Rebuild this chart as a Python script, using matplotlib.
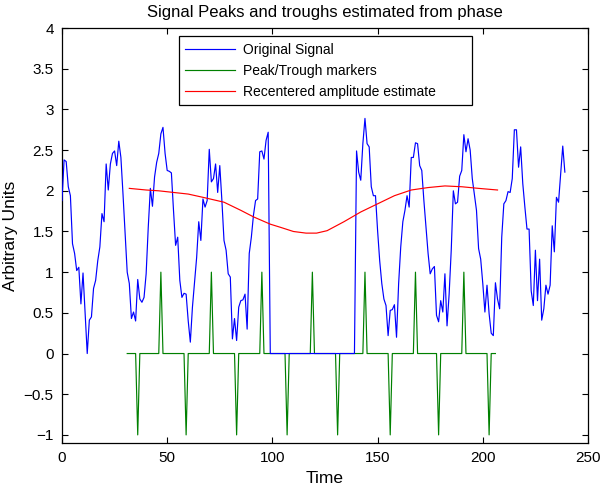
import numpy as np
import matplotlib
matplotlib.use('Agg')
import matplotlib.pyplot as plt

plt.rcParams['font.family'] = ['Liberation Sans', 'DejaVu Sans']

# Originalsignal, ett sample per tidssteg fra t=0
signal = [
    1.88, 2.38, 2.36, 2.05, 1.94, 1.35, 1.23, 1.02, 1.06, 0.61,
    0.99, 0.49, 0.00, 0.41, 0.45, 0.80, 0.90, 1.14, 1.31, 1.72,
    1.62, 2.33, 2.01, 2.33, 2.46, 2.49, 2.31, 2.61, 2.41, 1.96,
    1.47, 1.00, 0.86, 0.43, 0.51, 0.40, 0.91, 0.67, 0.63, 0.69,
    0.98, 1.55, 2.03, 1.81, 2.17, 2.35, 2.46, 2.70, 2.78, 2.46,
    2.25, 2.24, 2.22, 1.76, 1.33, 1.43, 0.90, 0.69, 0.74, 0.73,
    0.40, 0.14, 0.57, 0.88, 1.18, 1.62, 1.39, 1.90, 1.80, 1.88,
    2.51, 2.11, 2.15, 2.33, 1.98, 2.31, 1.88, 1.39, 1.27, 0.98,
    0.94, 0.18, 0.43, 0.16, 0.57, 0.65, 0.66, 0.73, 0.30, 1.23,
    1.43, 1.70, 1.88, 1.90, 2.48, 2.49, 2.39, 2.62, 2.72, 0.00,
    0.00, 0.00, 0.00, 0.00, 0.00, 0.00, 0.00, 0.00, 0.00, 0.00,
    0.00, 0.00, 0.00, 0.00, 0.00, 0.00, 0.00, 0.00, 0.00, 0.00,
    0.00, 0.00, 0.00, 0.00, 0.00, 0.00, 0.00, 0.00, 0.00, 0.00,
    0.00, 0.00, 0.00, 0.00, 0.00, 0.00, 0.00, 0.00, 0.00, 0.00,
    2.49, 2.23, 2.13, 2.58, 2.89, 2.58, 2.54, 2.05, 1.94, 1.94,
    1.51, 1.14, 0.86, 0.67, 0.59, 0.22, 0.53, 0.54, 0.60, 0.20,
    0.86, 1.31, 1.62, 1.76, 1.94, 1.80, 2.41, 2.41, 2.59, 2.58,
    2.31, 2.25, 1.88, 1.55, 1.23, 0.98, 1.04, 1.07, 0.47, 0.39,
    0.65, 0.51, 0.98, 0.34, 0.73, 1.27, 2.00, 1.84, 1.86, 2.18,
    2.25, 2.69, 2.48, 2.64, 2.50, 2.15, 1.96, 1.76, 1.29, 1.16,
    0.86, 0.51, 0.84, 0.49, 0.25, 0.22, 0.87, 0.67, 0.55, 1.43,
    1.84, 1.88, 1.99, 1.98, 2.15, 2.75, 2.75, 2.29, 2.54, 2.09,
    1.80, 1.53, 1.53, 0.77, 0.59, 1.27, 0.65, 1.16, 0.41, 0.55,
    0.84, 0.73, 0.84, 1.57, 1.25, 1.92, 1.86, 2.21, 2.55, 2.23,
]

# Topp/bunn-markører
marker_start = 31
marker_end = 206
peak_times = [47, 71, 95, 119, 144, 168, 191]
trough_times = [36, 59, 83, 107, 131, 156, 179, 203]

# Rekentrert amplitudeestimat
amp_t = [32, 40, 46, 53, 60, 67, 77, 85, 91, 99, 104, 110, 116, 121,
         126, 134, 142, 150, 158, 166, 174, 182, 190, 198, 207]
amp_v = [2.03, 2.01, 2.00, 1.98, 1.96, 1.92, 1.86, 1.76, 1.68, 1.59, 1.55,
         1.50, 1.48, 1.48, 1.51, 1.62, 1.74, 1.84, 1.94, 2.01, 2.04, 2.06,
         2.05, 2.03, 2.01]

t = np.arange(len(signal))
marker_t = np.arange(marker_start, marker_end + 1)
markers = np.zeros(len(marker_t))
for p in peak_times:
    markers[p - marker_start] = 1
for tr in trough_times:
    markers[tr - marker_start] = -1

fig = plt.figure(figsize=(6, 4.87), dpi=100)
ax = fig.add_axes([0.1033, 0.0903, 0.8767, 0.852])

l1, = ax.plot(t, signal, color=(0, 0, 1), lw=0.85, zorder=3, label='Original Signal')
l2, = ax.plot(marker_t, markers, color=(0, 0.5, 0), lw=0.85, zorder=2, label='Peak/Trough markers')
l3, = ax.plot(amp_t, amp_v, color=(1, 0, 0), lw=0.85, zorder=4, label='Recentered amplitude estimate')

ax.set_xlim(0, 250)
ax.set_ylim(-1.1, 4)
ax.set_xticks(np.arange(0, 251, 50))
ax.set_yticks(np.arange(-1, 4.01, 0.5))
ax.set_yticklabels(['\u22121', '\u22120.5', '0', '0.5', '1', '1.5', '2', '2.5', '3', '3.5', '4'])
ax.tick_params(direction='in', top=True, right=True, length=4, width=0.8,
               labelsize=11, pad=6)
for s in ax.spines.values():
    s.set_linewidth(0.9)

ax.set_title('Signal Peaks and troughs estimated from phase', fontsize=12, pad=8)
ax.set_xlabel('Time', fontsize=12.5, labelpad=4)
ax.set_ylabel('Arbitrary Units', fontsize=12.5, labelpad=4)

leg = ax.legend(handles=[l1, l2, l3], loc='upper left',
                bbox_to_anchor=(0.222, 0.80, 0.557, 0.18), mode='expand',
                fontsize=10, frameon=True, fancybox=False, framealpha=1,
                edgecolor='black', handlelength=3.6, handletextpad=0.6,
                labelspacing=0.5, borderpad=0.45, borderaxespad=0)
leg.get_frame().set_linewidth(0.9)

fig.savefig('out.png', dpi=100)
